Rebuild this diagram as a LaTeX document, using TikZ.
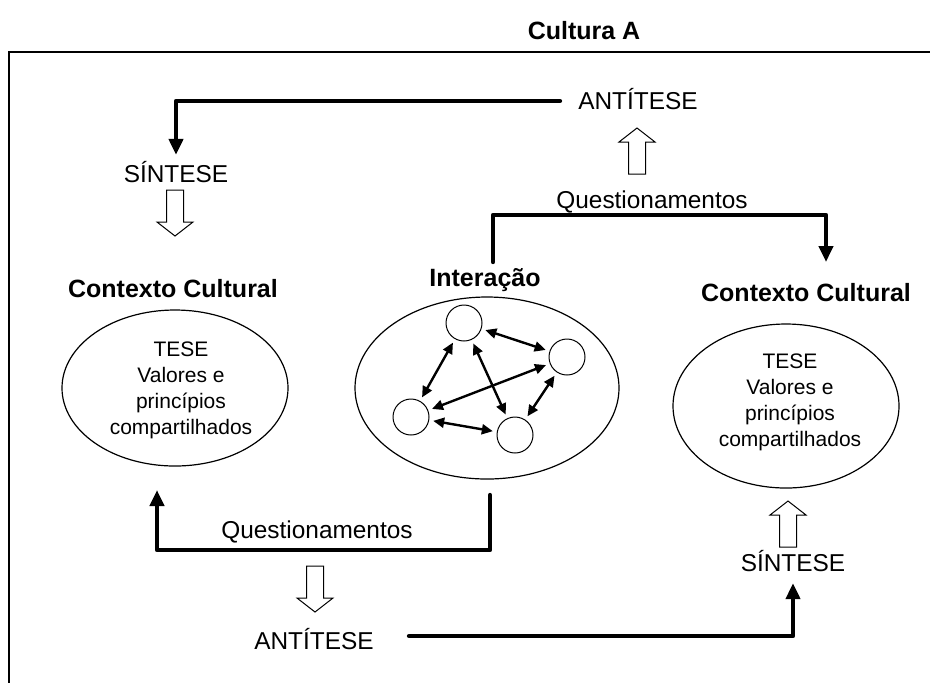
\documentclass[tikz,border=0pt]{standalone}
\usepackage{fontspec}
\setmainfont{Liberation Sans}
\usetikzlibrary{shapes.geometric,arrows.meta}
\tikzset{
  txt/.style={font=\fontsize{12.2}{14}\selectfont, inner sep=0pt, text height=8.7pt, text depth=0pt},
  bld/.style={font=\fontsize{12.5}{15}\selectfont\bfseries, inner sep=0pt, text height=9pt, text depth=0pt},
  tesetxt/.style={font=\fontsize{10.5}{13}\selectfont, align=center, inner sep=0pt},
  ell/.style={draw, ellipse, line width=0.6pt, inner sep=0pt},
  agent/.style={draw, circle, line width=0.5pt, minimum size=18pt, inner sep=0pt},
  flow/.style={line width=2.2pt, line cap=round, line join=round},
  flowarrow/.style={-{Triangle[length=8pt,width=7pt]}},
  link/.style={line width=1.2pt, {Triangle[length=5.5pt,width=5pt]}-{Triangle[length=5.5pt,width=5pt]}, shorten <=2pt, shorten >=2pt},
  hollowline/.style={draw, line width=0.5pt, fill=white, line join=miter},
  hollowdown/.pic={\path[hollowline] (-8.5,0) -- (8.5,0) -- (8.5,32) -- (18,32) -- (0,46) -- (-18,32) -- (-8.5,32) -- cycle;},
  hollowup/.pic={\path[hollowline] (0,0) -- (18,14) -- (8.5,14) -- (8.5,46) -- (-8.5,46) -- (-8.5,14) -- (-18,14) -- cycle;},
  frameline/.style={line width=0.8pt}
}
\begin{document}
\begin{tikzpicture}[x=0.5pt,y=-0.5pt]
\useasboundingbox (0,0) rectangle (930,682);
\clip (0,0) rectangle (930,682);
% frame
\draw[frameline] (9,700) -- (9,52) -- (940,52);
% title
\node[bld] (title) at (584,30) {Cultura A};
% top
\node[txt] (antT) at (638,101) {ANTÍTESE};
\node[txt] (sinL) at (176,174) {SÍNTESE};
\draw[flow,flowarrow,shorten >=5pt] ([xshift=-9pt]antT.west) -| (sinL.north);
\pic at (175,190) {hollowdown};
\pic at (637,128) {hollowup};
\node[txt] (qT) at (652,200) {Questionamentos};
% left context
\node[bld] (ccL) at (173,288) {Contexto Cultural};
\node[ell, minimum width=113pt, minimum height=78pt] (ellL) at (175,388) {};
\node[tesetxt] (tL) at (181,390) {TESE\\Valores e\\princípios\\compartilhados};
% middle
\node[bld] (intr) at (485,277) {Interação};
\node[ell, minimum width=132pt, minimum height=91pt] (ellM) at (487,388) {};
\node[agent] (c1) at (464,323) {};
\node[agent] (c2) at (567,357) {};
\node[agent] (c3) at (411,417) {};
\node[agent] (c4) at (515,435) {};
\draw[link] (c1) -- (c2);
\draw[link] (c1) -- (c3);
\draw[link] (c1) -- (c4);
\draw[link] (c2) -- (c3);
\draw[link] (c3) -- (c4);
\draw[link] (c2) -- (c4);
% right context
\node[bld] (ccR) at (806,292) {Contexto Cultural};
\node[ell, minimum width=113pt, minimum height=82pt] (ellR) at (786,406) {};
\node[tesetxt] (tR) at (790,402) {TESE\\Valores e\\princípios\\compartilhados};
\pic at (788,501) {hollowup};
\node[txt] (sinR) at (793,563) {SÍNTESE};
% top bracket
\coordinate (qa) at (493,262);
\coordinate (qb) at (826,262);
\draw[flow,flowarrow] (qa) -- ++(0,-47) -| (qb);
% bottom bracket
\coordinate (ba) at (490,495);
\coordinate (bb) at (157,490);
\draw[flow,flowarrow] (ba) -- ++(0,55) -| (bb);
\node[txt] (qB) at (317,530) {Questionamentos};
\pic at (315,566) {hollowdown};
\node[txt] (antB) at (314,641) {ANTÍTESE};
\coordinate (bl) at (409,636);
\draw[flow,flowarrow,shorten >=5.5pt] (bl) -| (sinR.south);
\end{tikzpicture}
\end{document}
